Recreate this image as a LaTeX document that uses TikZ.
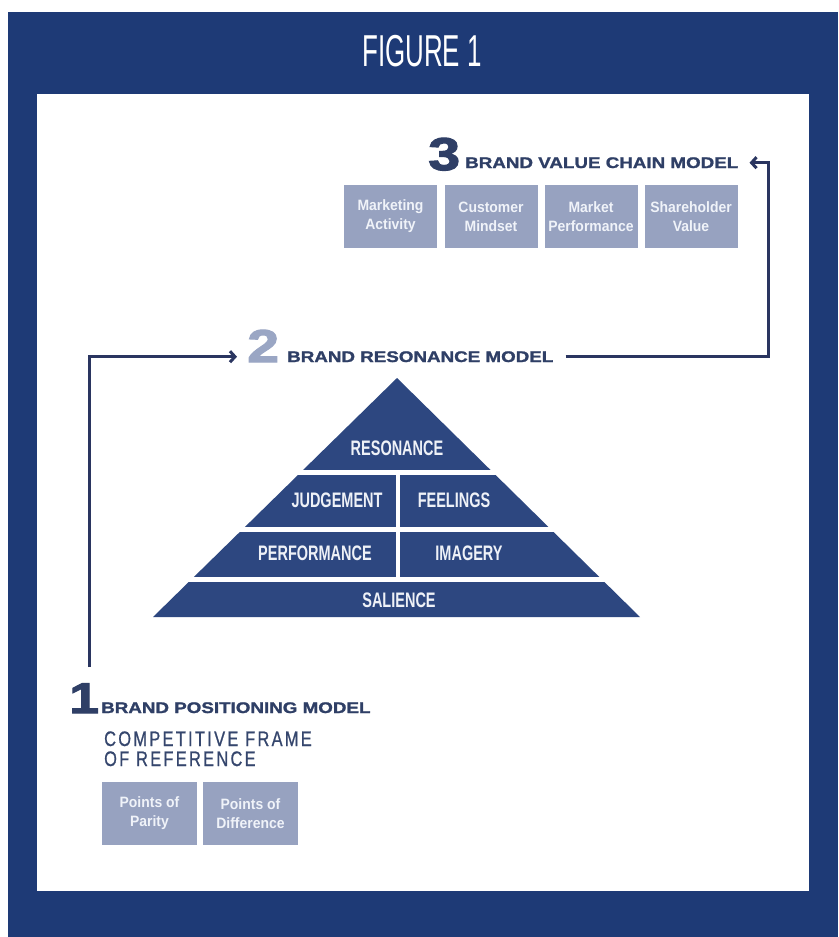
\documentclass[tikz,border=0pt]{standalone}
\usepackage{fontspec}
\setmainfont{Liberation Sans}
\newfontfamily\figfont[FakeStretch=0.58]{Liberation Sans}
\newfontfamily\pyrfont[FakeStretch=0.69]{Liberation Sans}
\newfontfamily\headfont[FakeStretch=1.22,FakeBold=1.5]{Liberation Sans}
\newfontfamily\compfont[FakeStretch=0.78,LetterSpace=11,FakeBold=0.8]{Liberation Sans}
\newfontfamily\numfont[FakeStretch=1.25,FakeBold=2.5]{Liberation Sans}
\newfontfamily\boxfont[FakeStretch=0.93]{Liberation Sans}
\usetikzlibrary{arrows.meta,calc}
\definecolor{framec}{HTML}{1E3A76}
\definecolor{pyrc}{HTML}{2D4780}
\definecolor{boxc}{HTML}{97A2C0}
\definecolor{boxtxt}{HTML}{F0F3F9}
\definecolor{headtxt}{HTML}{2F3F66}
\definecolor{numtwo}{HTML}{9AA6C4}
\definecolor{linec}{HTML}{2A3560}
\definecolor{comptxt}{HTML}{35466D}
\definecolor{pyrtxt}{HTML}{EEF1F7}
\begin{document}
\begin{tikzpicture}[x=1pt,y=-1pt,
  modelbox/.style={fill=boxc, minimum width=93pt, minimum height=63pt, inner sep=0pt,
    text=boxtxt, align=center, font=\boxfont\bfseries\fontsize{15}{19}\selectfont},
  headtext/.style={text=headtxt, inner sep=0pt, anchor=base west,
    font=\headfont\bfseries\fontsize{15.4}{16}\selectfont},
  numtext/.style={inner sep=0pt, anchor=base west,
    font=\numfont\bfseries\fontsize{46}{46}\selectfont},
  comptext/.style={text=comptxt, inner sep=0pt, anchor=base west,
    font=\compfont\fontsize{21}{22}\selectfont},
  pyrtext/.style={text=pyrtxt, inner sep=0pt,
    font=\pyrfont\bfseries\fontsize{21}{21}\selectfont},
  conn/.style={draw=linec, line width=3pt},
  tip/.style={-{Straight Barb[length=5pt,width=11pt]}}
]
\useasboundingbox (0,0) rectangle (838,937);
\fill[white] (0,0) rectangle (838,937);
\fill[framec] (8,12) rectangle (838,937);
\fill[white] (37,94) rectangle (809,891);
\node[text=white, inner sep=0pt, font=\figfont\fontsize{44.7}{45}\selectfont] (fig) at (422,51) {FIGURE 1};

% model 3
\node[numtext, text=headtxt] (n3) at (428,170) {3};
\node[headtext] (t3) at (465,168) {BRAND VALUE CHAIN MODEL};
\node[modelbox] (b31) at (390.5,216.5) {Marketing\\Activity};
\node[modelbox] (b32) at (491,216.5) {Customer\\Mindset};
\node[modelbox] (b33) at (591,216.5) {Market\\Performance};
\node[modelbox] (b34) at (691,216.5) {Shareholder\\Value};

% model 2
\node[numtext, text=numtwo] (n2) at (247,362) {2};
\node[headtext] (t2) at (287,362) {BRAND RESONANCE MODEL};

% pyramid
\fill[pyrc] (153,617) -- (397,378) -- (640,617) -- cycle;
\fill[white] (140,470) rectangle (660,475);
\fill[white] (140,527) rectangle (660,532);
\fill[white] (140,577) rectangle (660,582);
\fill[white] (396,472) rectangle (400,580);
\node[pyrtext] (res) at (397,448) {RESONANCE};
\node[pyrtext] (jud) at (337,500) {JUDGEMENT};
\node[pyrtext] (fee) at (454,500) {FEELINGS};
\node[pyrtext] (per) at (315,553) {PERFORMANCE};
\node[pyrtext] (ima) at (469,553) {IMAGERY};
\node[pyrtext] (sal) at (399,600) {SALIENCE};

% model 1
\node[numtext, text=headtxt, font=\numfont\bfseries\fontsize{43}{43}\selectfont] (n1) at (69,713) {1};
\node[headtext] (t1) at (101,713) {BRAND POSITIONING MODEL};
\node[comptext] (cf1) at (104,746) {COMPETITIVE FRAME};
\node[comptext] (cf2) at (104,766) {OF REFERENCE};
\node[modelbox, minimum width=95pt] (b11) at (149.5,813.5) {Points of\\Parity};
\node[modelbox, minimum width=95pt] (b12) at (250.5,813.5) {Points of\\Difference};

% connectors
\coordinate (c1) at (89,667);
\coordinate (c2) at (768,260);
\draw[conn, tip] (c1) |- ($(n2.west |- t2.west)+(-10,0)$);
\draw[conn, tip] ($(t2.east)+(12,0)$) -| (c2) |- ($(t3.east)+(11,0)$);
\end{tikzpicture}
\end{document}
